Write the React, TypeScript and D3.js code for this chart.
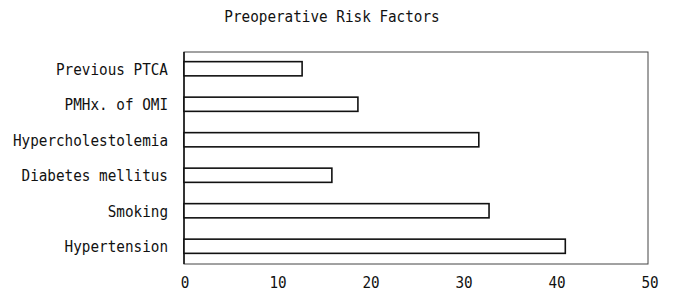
import React, { useRef, useEffect } from 'react';
import * as d3 from 'd3';

const title = 'Preoperative Risk Factors';
const categories = [
  'Previous PTCA',
  'PMHx. of OMI',
  'Hypercholestolemia',
  'Diabetes mellitus',
  'Smoking',
  'Hypertension',
];
const values = [12.7, 18.7, 31.7, 15.9, 32.8, 41.0];
const ticks = [0, 10, 20, 30, 40, 50];

const FONT = '"DejaVu Sans Mono", "Liberation Mono", monospace';
// the scanned font is a bit narrower and taller than DejaVu Sans Mono
const FONT_SIZE = '15.4px';
const SQUEEZE = 0.93;

const App = () => {
  const svgRef = useRef<SVGSVGElement>(null);

  useEffect(() => {
    const width = 673;
    const height = 294;
    const left = 184;
    const right = 649;
    const top = 52;
    const bottom = 264;

    const svg = d3.select(svgRef.current)
      .attr('width', width)
      .attr('height', height);
    svg.selectAll('*').remove();

    svg.append('rect')
      .attr('width', width)
      .attr('height', height)
      .attr('fill', 'white');

    const x = d3.scaleLinear().domain([0, 50]).range([left, right]);
    const y = d3.scaleBand<string>()
      .domain(categories)
      .range([51, 264])
      .paddingInner(0.6)
      .paddingOuter(0.3);

    const label = (px: number, py: number) =>
      `translate(${px},${py}) scale(${SQUEEZE},1)`;

    // title
    svg.append('text')
      .attr('transform', label(332, 17))
      .attr('text-anchor', 'middle')
      .attr('dominant-baseline', 'central')
      .attr('font-family', FONT)
      .attr('font-size', FONT_SIZE)
      .attr('fill', '#111')
      .text(title);

    // frame
    svg.append('rect')
      .attr('x', left)
      .attr('y', top)
      .attr('width', right - left - 1)
      .attr('height', bottom - top)
      .attr('fill', 'none')
      .attr('stroke', '#444')
      .attr('stroke-width', 1);

    svg.append('line')
      .attr('x1', left).attr('x2', left)
      .attr('y1', top).attr('y2', bottom)
      .attr('stroke', '#111')
      .attr('stroke-width', 1.5);

    // bars
    svg.selectAll('rect.bar')
      .data(values)
      .enter()
      .append('rect')
      .attr('class', 'bar')
      .attr('x', x(0))
      .attr('y', (d, i) => y(categories[i])!)
      .attr('width', d => x(d) - x(0))
      .attr('height', y.bandwidth())
      .attr('fill', 'white')
      .attr('stroke', '#111')
      .attr('stroke-width', 1.6);

    // category labels
    svg.selectAll('text.cat')
      .data(categories)
      .enter()
      .append('text')
      .attr('class', 'cat')
      .attr('transform', d => label(168, y(d)! + y.bandwidth() / 2 + 1))
      .attr('text-anchor', 'end')
      .attr('dominant-baseline', 'central')
      .attr('font-family', FONT)
      .attr('font-size', FONT_SIZE)
      .attr('fill', '#111')
      .text(d => d);

    // x tick labels
    svg.selectAll('text.tick')
      .data(ticks)
      .enter()
      .append('text')
      .attr('class', 'tick')
      .attr('transform', d => label(x(d) + 1, 283))
      .attr('text-anchor', 'middle')
      .attr('dominant-baseline', 'central')
      .attr('font-family', FONT)
      .attr('font-size', FONT_SIZE)
      .attr('fill', '#111')
      .text(d => d);
  }, []);

  return (
    <svg ref={svgRef} style={{ position: 'absolute', left: 0, top: 0 }}></svg>
  );
};

export default App;
